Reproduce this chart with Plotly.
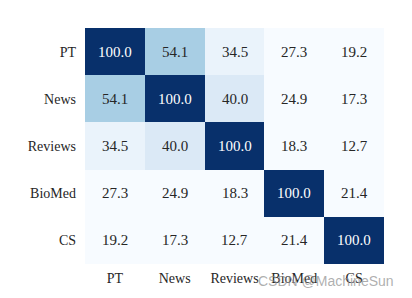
import plotly.graph_objects as go

categories = ["PT", "News", "Reviews", "BioMed", "CS"]
values = [
    [100.0, 54.1, 34.5, 27.3, 19.2],
    [54.1, 100.0, 40.0, 24.9, 17.3],
    [34.5, 40.0, 100.0, 18.3, 12.7],
    [27.3, 24.9, 18.3, 100.0, 21.4],
    [19.2, 17.3, 12.7, 21.4, 100.0],
]

blues = [
    [0.0, "#f7fbff"], [0.125, "#deebf7"], [0.25, "#c6dbef"], [0.375, "#9ecae1"],
    [0.5, "#6baed6"], [0.625, "#4292c6"], [0.75, "#2171b5"], [0.875, "#08519c"],
    [1.0, "#08306b"],
]
zmin, zmax = 30, 100

fig = go.Figure(go.Heatmap(
    z=values, x=categories, y=categories,
    colorscale=blues, zmin=zmin, zmax=zmax, showscale=False,
    hoverinfo="skip",
))

annotations = []
for i, row_name in enumerate(categories):
    for j, col_name in enumerate(categories):
        v = values[i][j]
        frac = (v - zmin) / (zmax - zmin)
        annotations.append(dict(
            x=col_name, y=row_name, text=f"{v:.1f}", showarrow=False,
            font=dict(family="Liberation Serif", size=15,
                      color="#ffffff" if frac > 0.6 else "#262626"),
        ))
annotations.append(dict(
    xref="paper", yref="paper", x=1.04, y=-0.07, xanchor="right", yanchor="middle",
    text="CSDN @MachineSun", showarrow=False,
    font=dict(family="Liberation Sans", size=14, color="rgba(140,140,140,0.7)"),
))

fig.update_layout(
    width=412, height=298,
    margin=dict(l=85, r=28, t=28, b=32),
    paper_bgcolor="white", plot_bgcolor="white",
    font=dict(family="Liberation Serif", size=14, color="#262626"),
    annotations=annotations,
    xaxis=dict(showgrid=False, zeroline=False, ticks="", showline=False,
               ticklabelstandoff=4, tickfont=dict(size=14)),
    yaxis=dict(showgrid=False, zeroline=False, ticks="", showline=False,
               autorange="reversed", ticklabelstandoff=8, tickfont=dict(size=14)),
)

fig.write_html("out.html")
